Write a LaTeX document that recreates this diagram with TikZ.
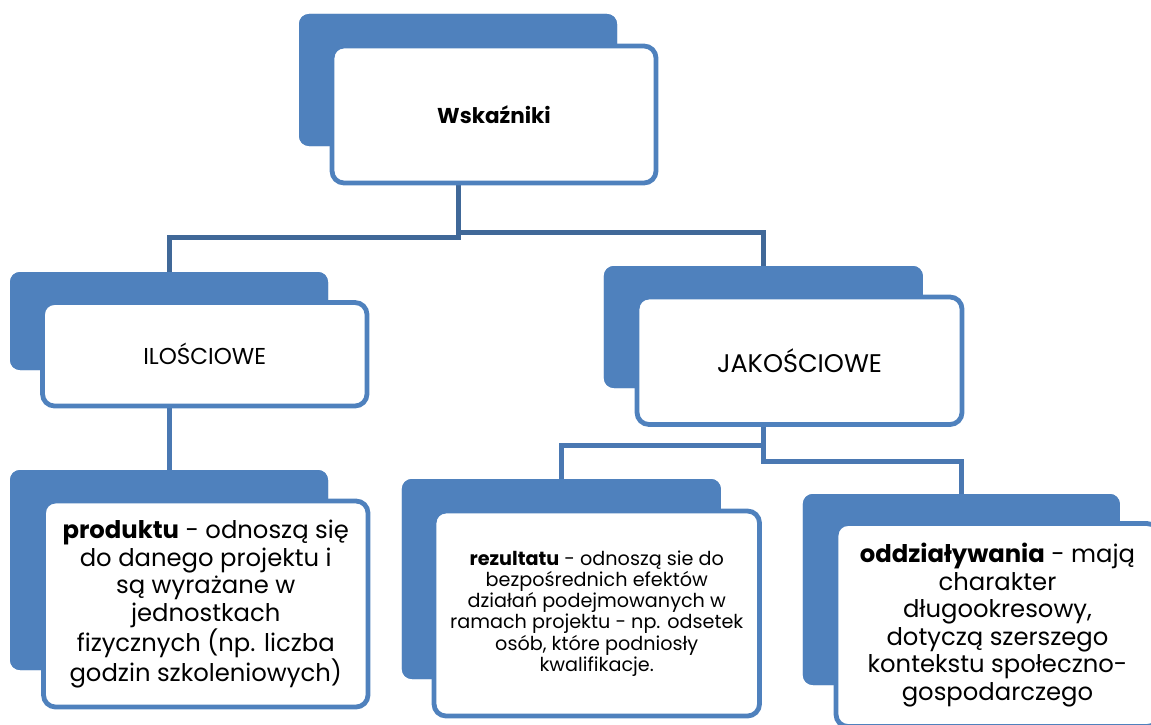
\documentclass[tikz,border=0pt]{standalone}
\usepackage{fontspec}
\setmainfont{Poppins}
\definecolor{boxblue}{RGB}{79,129,189}
\definecolor{conndark}{RGB}{64,104,152}
\definecolor{connlight}{RGB}{74,120,178}
\tikzset{
  backbox/.style={fill=boxblue, draw=none, rounded corners=10pt, inner sep=0pt, outer sep=0pt},
  frontbox/.style={fill=white, draw=boxblue, line width=4.8pt, rounded corners=12pt, align=center, inner sep=0pt, outer sep=0pt, text=black},
  connA/.style={draw=conndark, line width=5pt},
  connB/.style={draw=connlight, line width=5pt},
  bigtext/.style={font=\fontsize{24.3}{27.6}\selectfont},
  smalltext/.style={font=\fontsize{19.2}{21.3}\selectfont},
}
\begin{document}
\begin{tikzpicture}[x=1pt,y=-1pt]
\useasboundingbox (0,0) rectangle (1151,725);
\clip (0,0) rectangle (1151,725);
% back boxes
\node[backbox, minimum width=318pt, minimum height=132pt] (wB) at (458,80) {};
\node[backbox, minimum width=318pt, minimum height=98pt] (iB) at (169,321) {};
\node[backbox, minimum width=319pt, minimum height=122pt] (jB) at (763.35,327) {};
\node[backbox, minimum width=318pt, minimum height=200pt] (pB) at (169,570) {};
\node[backbox, minimum width=319pt, minimum height=200pt] (rB) at (561.35,579) {};
\node[backbox, minimum width=317pt, minimum height=191pt] (oB) at (961.35,589.5) {};
% connectors
\draw[connA] (wB.south) -- (wB.south |- 0,237.5) -| (iB.north);
\draw[connA] (wB.south) -- (wB.south |- 0,232.5) -| (jB.north);
\draw[connB] (iB.south) -- (pB.north);
\draw[connB] (jB.south) -- (jB.south |- 0,445.5) -| (rB.north);
\draw[connB] (jB.south) -- (jB.south |- 0,461) -| (oB.north);
% redraw back boxes above connectors
\node[backbox, minimum width=318pt, minimum height=132pt] at (458,80) {};
\node[backbox, minimum width=318pt, minimum height=98pt] at (169,321) {};
\node[backbox, minimum width=319pt, minimum height=122pt] at (763.35,327) {};
\node[backbox, minimum width=318pt, minimum height=200pt] at (169,570) {};
\node[backbox, minimum width=319pt, minimum height=200pt] at (561.35,579) {};
\node[backbox, minimum width=317pt, minimum height=191pt] at (961.35,589.5) {};
% front boxes
\node[frontbox, minimum width=324pt, minimum height=137pt, font=\fontsize{21.5}{25}\selectfont\bfseries] (wF) at (494,114.5) {Wskaźniki};
\node[frontbox, minimum width=324.5pt, minimum height=103.5pt, font=\fontsize{23}{27}\selectfont] (iF) at (204.75,354.25) {ILOŚCIOWE};
\node[frontbox, minimum width=325pt, minimum height=127.5pt, font=\fontsize{25.5}{29}\selectfont] (jF) at (799.5,360.75) {JAKOŚCIOWE};
\node[frontbox, bigtext, minimum width=324.5pt, minimum height=206pt] (pF) at (205.75,604) {\textbf{produktu} - odnoszą się\\ do danego projektu i\\ są wyrażane w\\ jednostkach\\ fizycznych (np. liczba\\ godzin szkoleniowych)};
\node[frontbox, smalltext, minimum width=325.5pt, minimum height=205pt] (rF) at (596.75,613.5) {\textbf{rezultatu} - odnoszą sie do\\ bezpośrednich efektów\\ działań podejmowanych w\\ ramach projektu - np. odsetek\\ osób, które podniosły\\ kwalifikacje.};
\node[frontbox, bigtext, minimum width=323pt, minimum height=203pt] (oF) at (997.5,625) {\textbf{oddziaływania} - mają\\ charakter\\ długookresowy,\\ dotyczą szerszego\\ kontekstu społeczno-\\ gospodarczego};
\end{tikzpicture}
\end{document}
